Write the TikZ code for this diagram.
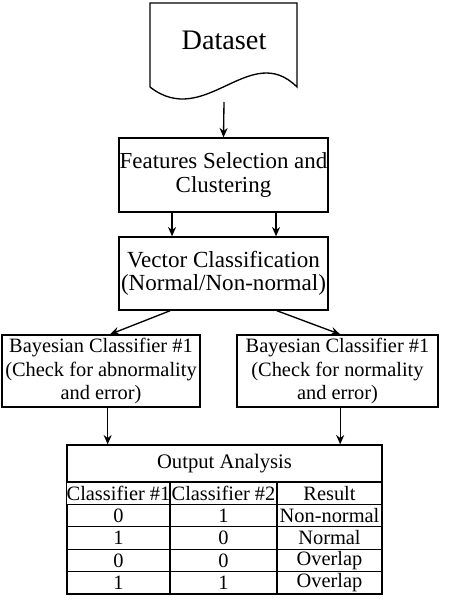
\documentclass[tikz,border=0pt]{standalone}
\usepackage{fontspec}
\setmainfont{Liberation Serif}
\usetikzlibrary{arrows.meta}
\tikzset{
  caja/.style={draw, line width=1pt, align=center, inner sep=0pt},
  flecha/.style={-{Stealth[length=7pt,width=6pt]}, line width=1pt},
  celda/.style={draw, line width=1pt, inner sep=0pt, minimum height=16.8pt, font=\fontsize{15.3}{17}\selectfont},
  colA/.style={celda, minimum width=77.25pt},
  colB/.style={celda, minimum width=80.25pt},
  colC/.style={celda, minimum width=78.75pt},
}
\begin{document}
\begin{tikzpicture}[x=0.75pt,y=-0.75pt]
  \useasboundingbox (0,0) rectangle (450,600);
  %datos
  \draw [line width=1pt] (150,87) -- (150,3) -- (297,3) -- (297,87) .. controls (250,40) and (205,130) .. (150,87);
  \node at (224,40) (dataset) {\fontsize{21.2}{24}\selectfont Dataset};
  \coordinate (datasetbot) at (224,102);

  %cajas
  \node[caja, minimum width=156.8pt, minimum height=55.5pt, font=\fontsize{17.2}{17.5}\selectfont] at (223.5,175) (feat) {Features Selection and\\Clustering};
  \node[caja, minimum width=156.8pt, minimum height=54.8pt, font=\fontsize{17.3}{17.5}\selectfont] at (223.5,273.5) (vect) {Vector Classification\\(Normal/Non-normal)};
  \node[caja, minimum width=148.5pt, minimum height=54pt, font=\fontsize{15.3}{17.3}\selectfont] at (101,371) (bay1) {Bayesian Classifier \#1\\(Check for abnormality\\and error)};
  \node[caja, minimum width=150.8pt, minimum height=54pt, font=\fontsize{15.3}{17.3}\selectfont] at (337.5,371) (bay2) {Bayesian Classifier \#1\\(Check for normality\\and error)};

  %%%% TABLA
  \node[caja, minimum width=236.25pt, minimum height=27.75pt, font=\fontsize{15.5}{17}\selectfont] at (224.5,463.5) (titulo) {Output Analysis};
  \node[colA] at (118.5,493.2) (c11) {Classifier \#1};
  \node[colB] at (223.5,493.2) (c12) {Classifier \#2};
  \node[colC] at (329.5,493.2) (c13) {Result};
  \node[colA] at (118.5,515.6) (c21) {0};
  \node[colB] at (223.5,515.6) (c22) {1};
  \node[colC] at (329.5,515.6) (c23) {Non-normal};
  \node[colA] at (118.5,538) (c31) {1};
  \node[colB] at (223.5,538) (c32) {0};
  \node[colC] at (329.5,538) (c33) {Normal};
  \node[colA] at (118.5,560.4) (c41) {0};
  \node[colB] at (223.5,560.4) (c42) {0};
  \node[colC] at (329.5,560.4) (c43) {Overlap};
  \node[colA] at (118.5,582.8) (c51) {1};
  \node[colB] at (223.5,582.8) (c52) {1};
  \node[colC] at (329.5,582.8) (c53) {Overlap};

  %flechas
  \draw [flecha] (datasetbot) -- (feat.north);
  \draw [flecha] ([xshift=-38.6pt]feat.south) -- ([xshift=-38.6pt]vect.north);
  \draw [flecha] ([xshift=39.4pt]feat.south) -- ([xshift=39.4pt]vect.north);
  \draw [flecha] ([xshift=-40pt]vect.south) -- ([xshift=6.75pt]bay1.north);
  \draw [flecha] ([xshift=40pt]vect.south) -- ([xshift=2pt]bay2.north);
  \draw [flecha] ([xshift=5pt]bay1.south) -- ([xshift=5pt]bay1.south |- titulo.north);
  \draw [flecha] ([xshift=2pt]bay2.south) -- ([xshift=2pt]bay2.south |- titulo.north);
\end{tikzpicture}
\end{document}
